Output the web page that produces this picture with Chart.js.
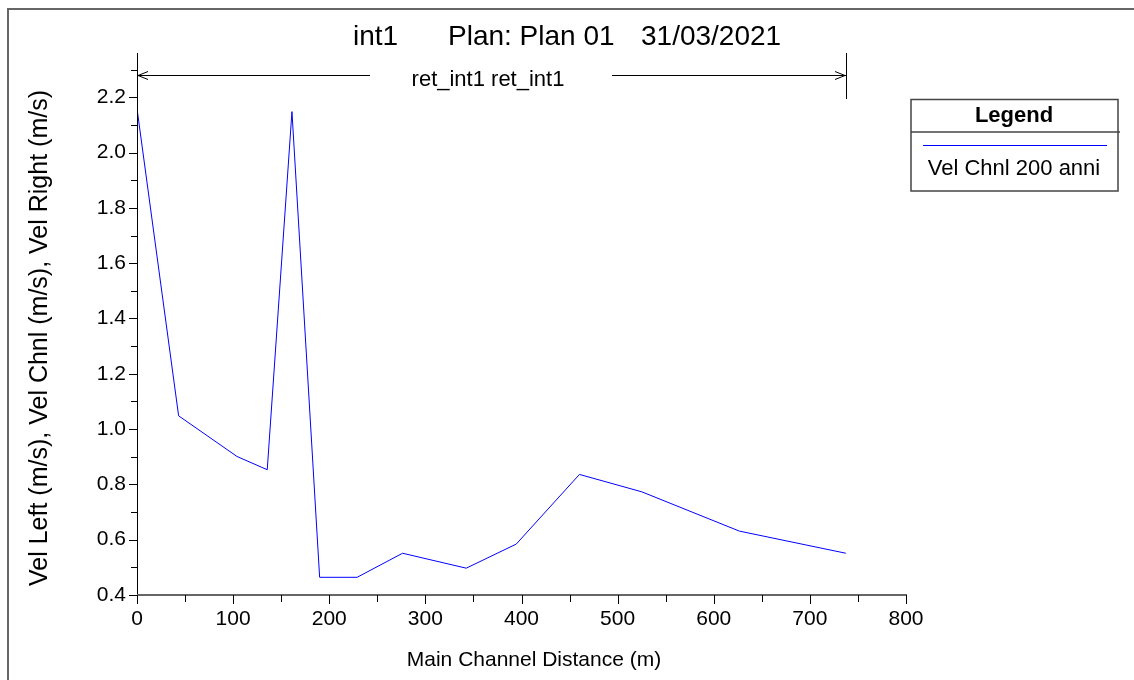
<!DOCTYPE html>
<html><head><meta charset="utf-8">
<script src="https://cdn.jsdelivr.net/npm/chart.js@4.4.0/dist/chart.umd.min.js"></script>
<style>html,body{margin:0;padding:0;background:#fff;overflow:hidden}#wrap{width:1134px;height:680px;position:relative}canvas{display:block}</style>
</head><body><div id="wrap"><canvas id="c" width="1134" height="680"></canvas></div>
<script>
// ---- data ----
const distances = [0, 43.3, 104, 135.5, 161.2, 190, 229, 276.3, 342.5, 394.5, 460.3, 525.2, 626.7, 737.4];
const velChnl   = [2.159, 1.048, 0.901, 0.853, 2.148, 0.464, 0.464, 0.551, 0.497, 0.584, 0.836, 0.773, 0.631, 0.551];
const xMajorTicks = [0, 100, 200, 300, 400, 500, 600, 700, 800];
const xMinorTicks = [50, 150, 250, 350, 450, 550, 650, 750];
const yMajorTicks = [0.4, 0.6, 0.8, 1.0, 1.2, 1.4, 1.6, 1.8, 2.0, 2.2];
const yMinorTicks = [0.5, 0.7, 0.9, 1.1, 1.3, 1.5, 1.7, 1.9, 2.1, 2.3];
const seriesLabel = 'Vel Chnl 200 anni';
const titleParts = ['int1', 'Plan: Plan 01', '31/03/2021'];
const reachLabel = 'ret_int1 ret_int1';
const xTitle = 'Main Channel Distance (m)';
const yTitle = 'Vel Left (m/s), Vel Chnl (m/s), Vel Right (m/s)';
const legendTitle = 'Legend';

const FONT = "'Liberation Sans', Arial, sans-serif";
const points = distances.map((d, i) => ({x: d, y: velChnl[i]}));

const overlay = {
  id: 'overlay',
  afterDraw(chart) {
    const ctx = chart.ctx;
    const xs = chart.scales.x, ys = chart.scales.y;
    const ca = chart.chartArea;
    ctx.save();
    // outer frame
    ctx.strokeStyle = '#666';
    ctx.lineWidth = 2;
    ctx.beginPath();
    ctx.moveTo(8, 680); ctx.lineTo(8, 9); ctx.lineTo(1134, 9);
    ctx.stroke();

    // axis lines
    ctx.strokeStyle = '#000';
    ctx.lineWidth = 1;
    ctx.beginPath();
    ctx.moveTo(ca.left + 0.5, ca.top); ctx.lineTo(ca.left + 0.5, ca.bottom);
    ctx.stroke();
    ctx.strokeStyle = '#666';
    ctx.lineWidth = 2;
    ctx.beginPath();
    ctx.moveTo(ca.left, ca.bottom); ctx.lineTo(ca.right + 1, ca.bottom);
    ctx.stroke();

    // ticks
    ctx.strokeStyle = '#000';
    ctx.lineWidth = 1;
    ctx.beginPath();
    yMajorTicks.forEach(v => { const p = Math.round(ys.getPixelForValue(v)) + 0.5; ctx.moveTo(ca.left - 8, p); ctx.lineTo(ca.left, p); });
    yMinorTicks.forEach(v => { const p = Math.round(ys.getPixelForValue(v)) + 0.5; ctx.moveTo(ca.left - 6, p); ctx.lineTo(ca.left, p); });
    xMajorTicks.forEach(v => { const p = Math.round(xs.getPixelForValue(v)) + 0.5; ctx.moveTo(p, ca.bottom); ctx.lineTo(p, ca.bottom + 9); });
    xMinorTicks.forEach(v => { const p = Math.round(xs.getPixelForValue(v)) + 0.5; ctx.moveTo(p, ca.bottom); ctx.lineTo(p, ca.bottom + 7); });
    ctx.stroke();

    ctx.fillStyle = '#000';
    ctx.textBaseline = 'alphabetic';
    // title
    ctx.font = '28px ' + FONT;
    ctx.textAlign = 'left';
    ctx.fillText(titleParts[0], 353, 45);
    ctx.fillText(titleParts[1], 448, 45);
    ctx.fillText(titleParts[2], 641, 45);

    // reach arrow
    const xa = Math.round(xs.getPixelForValue(distances[0]));
    const xb = Math.round(xs.getPixelForValue(distances[distances.length - 1]));
    const ay = 75.5;
    ctx.font = '22px ' + FONT;
    ctx.textAlign = 'center';
    const cx = 488;
    const tw = ctx.measureText(reachLabel).width;
    const gapL = 370, gapR = 612;
    ctx.strokeStyle = '#000';
    ctx.lineWidth = 1;
    ctx.beginPath();
    ctx.moveTo(xa, ay); ctx.lineTo(gapL, ay);
    ctx.moveTo(gapR, ay); ctx.lineTo(xb, ay);
    // arrowheads
    ctx.moveTo(xa + 11, ay - 4); ctx.lineTo(xa + 1, ay); ctx.lineTo(xa + 11, ay + 4);
    ctx.moveTo(xb - 11, ay - 4); ctx.lineTo(xb - 1, ay); ctx.lineTo(xb - 11, ay + 4);
    // end bar
    ctx.moveTo(xb + 0.5, ca.top); ctx.lineTo(xb + 0.5, 99);
    ctx.stroke();
    ctx.fillText(reachLabel, cx, 86);

    // axis titles
    ctx.font = '21px ' + FONT;
    ctx.textAlign = 'center';
    ctx.fillText(xTitle, 534, 666);
    ctx.save();
    ctx.translate(47, 338);
    ctx.rotate(-Math.PI / 2);
    ctx.font = '25px ' + FONT;
    ctx.fillText(yTitle, 0, 0);
    ctx.restore();

    // legend box
    const ds = chart.data.datasets[0];
    ctx.strokeStyle = '#444';
    ctx.lineWidth = 1.5;
    ctx.strokeRect(911, 99.5, 207, 91.5);
    ctx.beginPath();
    ctx.moveTo(911, 132); ctx.lineTo(1120, 132);
    ctx.stroke();
    ctx.strokeStyle = ds.borderColor;
    ctx.lineWidth = 1;
    ctx.beginPath();
    ctx.moveTo(923, 145.5); ctx.lineTo(1107, 145.5);
    ctx.stroke();
    ctx.fillStyle = '#000';
    ctx.font = 'bold 22px ' + FONT;
    ctx.fillText(legendTitle, 1014, 122);
    ctx.font = '22px ' + FONT;
    ctx.fillText(ds.label, 1014, 175);
    ctx.restore();
  }
};

new Chart(document.getElementById('c'), {
  type: 'line',
  data: {
    datasets: [{
      label: seriesLabel,
      data: points,
      borderColor: '#0000ff',
      borderWidth: 1,
      pointRadius: 0,
      tension: 0,
      fill: false
    }]
  },
  options: {
    responsive: false,
    animation: false,
    devicePixelRatio: 1,
    layout: { padding: { left: 37, right: 228, top: 53, bottom: 45 } },
    plugins: { legend: { display: false }, title: { display: false }, tooltip: { enabled: false } },
    scales: {
      x: {
        type: 'linear', position: 'bottom', min: 0, max: 800,
        afterBuildTicks: s => { s.ticks = xMajorTicks.map(v => ({value: v})); },
        afterFit: s => { s.height = 40; },
        grid: { display: false, drawTicks: false },
        border: { display: false },
        ticks: { color: '#000', font: { family: FONT, size: 21 }, padding: 12, maxRotation: 0, autoSkip: false, callback: v => String(v) }
      },
      y: {
        type: 'linear', position: 'left', min: 0.4, max: 2.36,
        afterBuildTicks: s => { s.ticks = yMajorTicks.map(v => ({value: v})); },
        afterFit: s => { s.width = 100; },
        grid: { display: false, drawTicks: false },
        border: { display: false },
        ticks: { color: '#000', font: { family: FONT, size: 21 }, padding: 11, autoSkip: false, callback: v => Number(v).toFixed(1) }
      }
    }
  },
  plugins: [overlay]
});
</script>
</body></html>
